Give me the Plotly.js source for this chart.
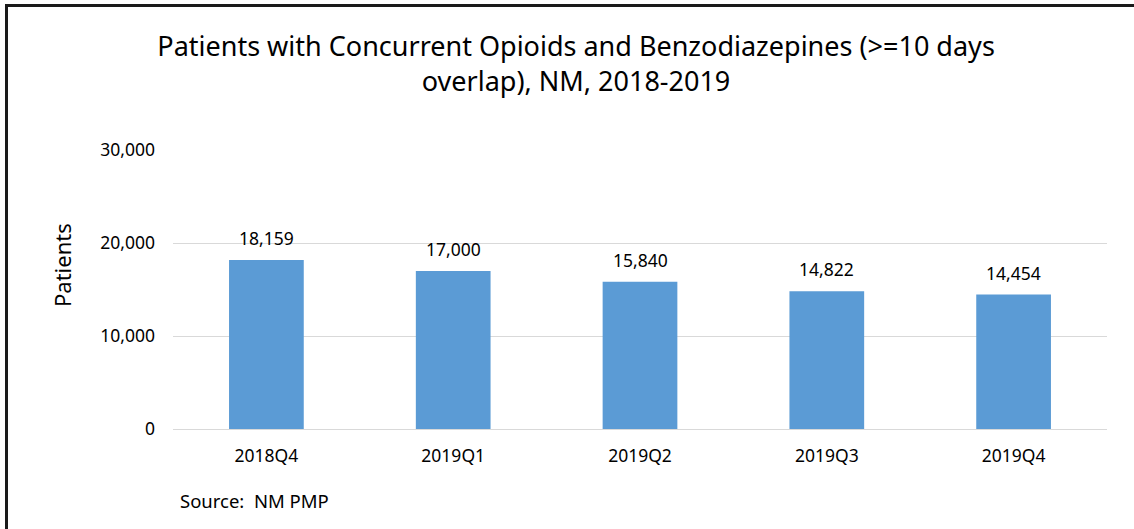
<!DOCTYPE html>
<html>
<head>
<meta charset="utf-8">
<script src="https://cdn.plot.ly/plotly-3.0.1.min.js"></script>
<style>html,body{margin:0;padding:0;background:#fff;}#chart{width:1134px;height:529px;}</style>
</head>
<body>
<div id="chart"></div>
<script>
const categories = ["2018Q4", "2019Q1", "2019Q2", "2019Q3", "2019Q4"];
const patients = [18159, 17000, 15840, 14822, 14454];
const yTicks = [0, 10000, 20000, 30000];
const yTickLabels = ["0", "10,000", "20,000", "30,000"];

const FONT = "Noto Sans, Open Sans, sans-serif";

const trace = {
  type: "bar",
  x: categories,
  y: patients,
  marker: { color: "#5b9bd5", line: { width: 0 } },
  hoverinfo: "skip"
};

const valueLabels = categories.map((c, i) => ({
  x: c, y: patients[i], xref: "x", yref: "y",
  text: patients[i].toLocaleString("en-US"),
  showarrow: false, yanchor: "bottom", yshift: 8,
  font: { family: FONT, size: 17.5, color: "#000" }
}));

const layout = {
  width: 1134, height: 529,
  margin: { l: 173, r: 27, t: 150, b: 100 },
  paper_bgcolor: "#fff", plot_bgcolor: "#fff",
  showlegend: false,
  bargap: 0.6,
  title: {
    text: "Patients with Concurrent Opioids and Benzodiazepines (&gt;=10 days<br>overlap), NM, 2018-2019",
    font: { family: FONT, size: 27, color: "#000" },
    x: 0.508, xref: "container", xanchor: "center",
    y: 1 - 56 / 529, yref: "container", yanchor: "top"
  },
  xaxis: {
    type: "category",
    showgrid: false, zeroline: false, showline: false,
    ticks: "", ticklabelstandoff: 14,
    tickfont: { family: FONT, size: 17.5, color: "#000" }
  },
  yaxis: {
    range: [0, 30000],
    tickvals: yTicks, ticktext: yTickLabels,
    showgrid: true, gridcolor: "#d9d9d9", gridwidth: 1,
    zeroline: true, zerolinecolor: "#d9d9d9", zerolinewidth: 1,
    showline: false, ticks: "", ticklabelstandoff: 17,
    tickfont: { family: FONT, size: 17.5, color: "#000" }
  },
  annotations: valueLabels.concat([{
    text: "Source:  NM PMP", xref: "paper", yref: "paper",
    x: (178 - 173) / 934, y: -(500 - 429) / 279,
    xanchor: "left", yanchor: "middle", showarrow: false,
    font: { family: FONT, size: 18.5, color: "#000" }
  }, {
    text: "Patients", xref: "paper", yref: "paper",
    x: (62 - 173) / 934, y: (429 - 265) / 279,
    xanchor: "center", yanchor: "middle", textangle: -90, showarrow: false,
    font: { family: FONT, size: 22, color: "#000" }
  }]),
  shapes: [
    { type: "line", xref: "paper", yref: "paper",
      x0: (6.5 - 173) / 934, x1: (6.5 - 173) / 934,
      y0: 1 + (150 - 4.5) / 279, y1: -(100 + 5) / 279,
      line: { color: "#1a1a1a", width: 3 } },
    { type: "line", xref: "paper", yref: "paper",
      x0: (5 - 173) / 934, x1: (1140 - 173) / 934,
      y0: 1 + (150 - 5.5) / 279, y1: 1 + (150 - 5.5) / 279,
      line: { color: "#1a1a1a", width: 3 } }
  ]
};

Plotly.newPlot("chart", [trace], layout, { displayModeBar: false, staticPlot: true });
</script>
</body>
</html>
